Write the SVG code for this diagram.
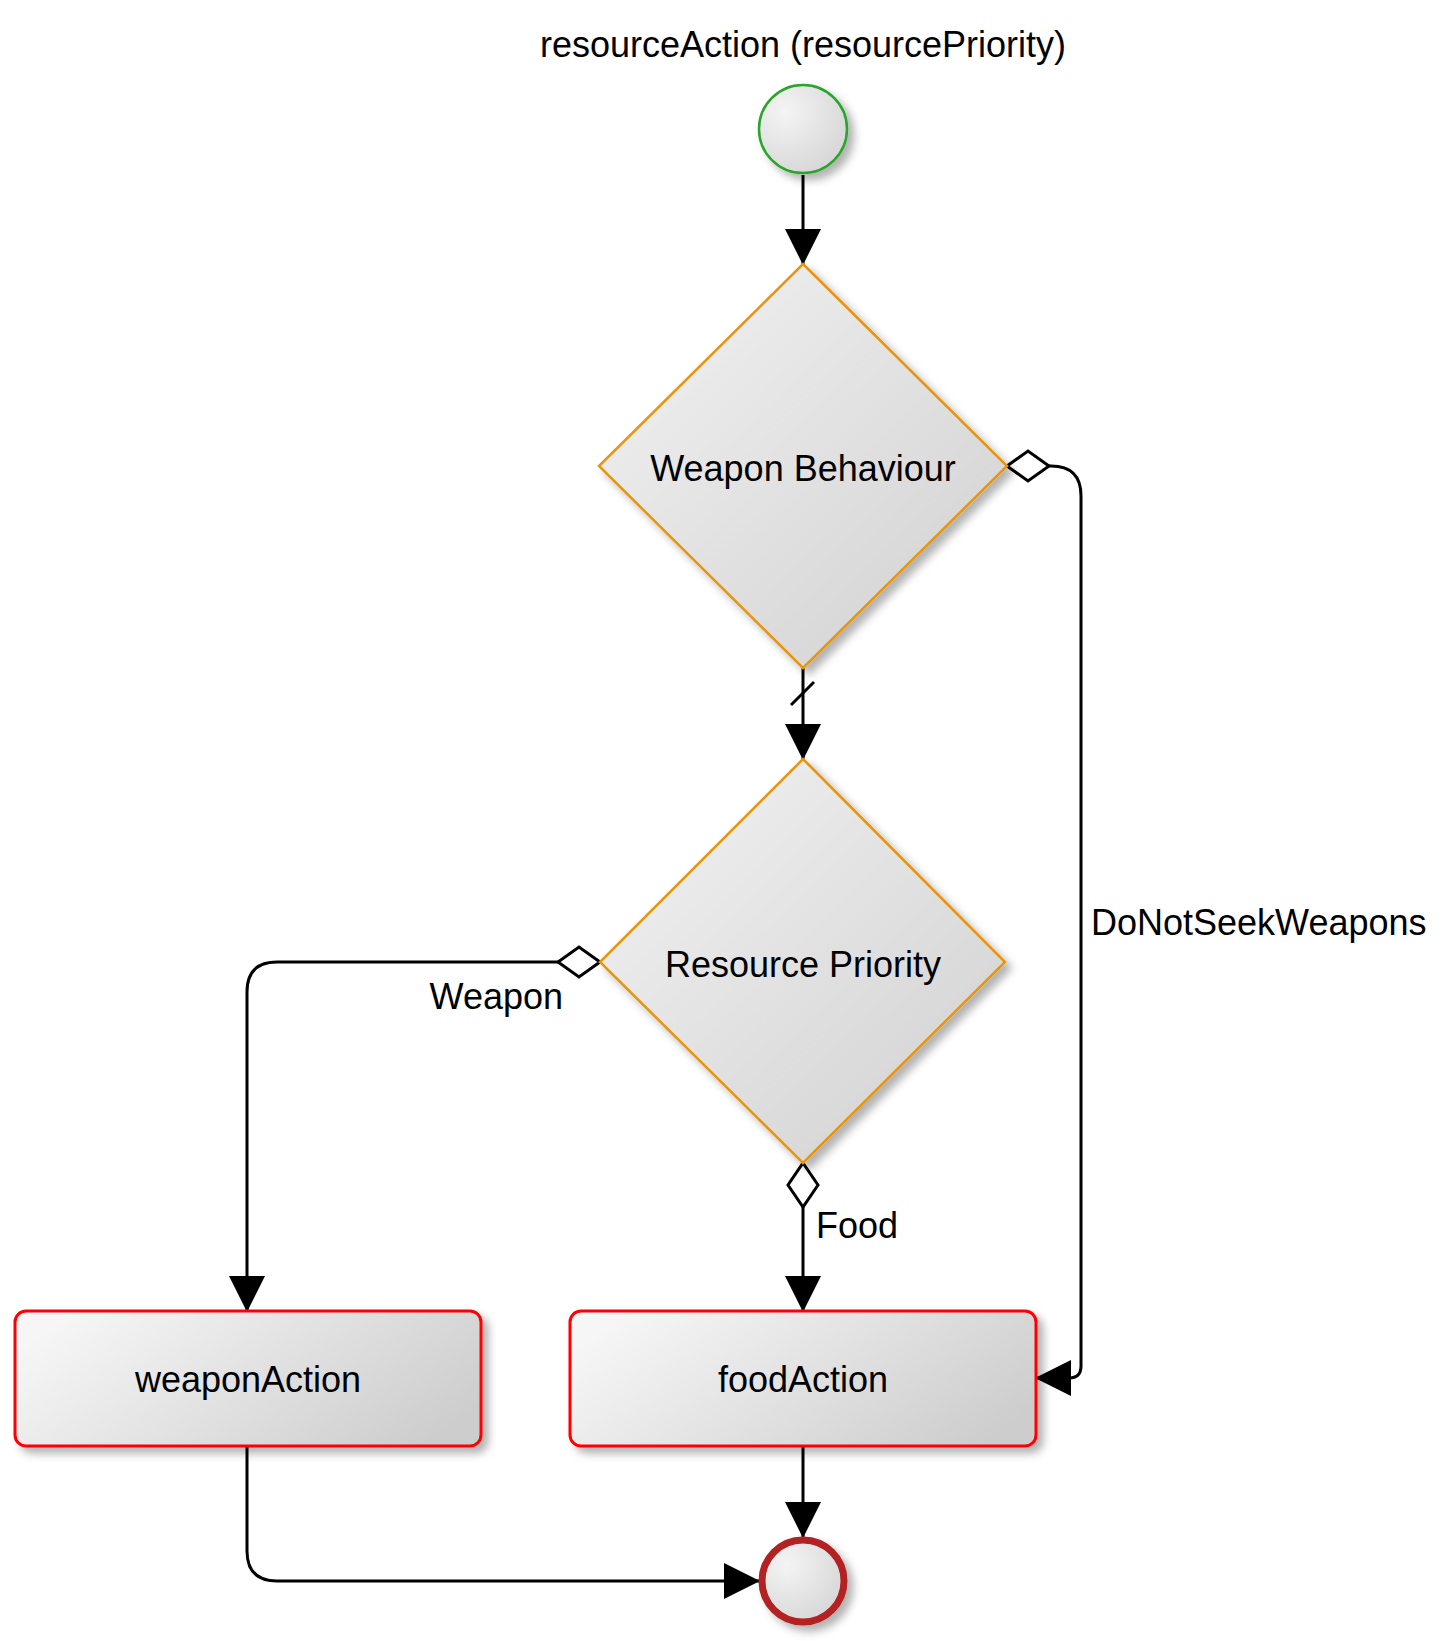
<svg xmlns="http://www.w3.org/2000/svg" width="1452" height="1641" viewBox="0 0 1452 1641">
<defs>
<linearGradient id="gDia" x1="0" y1="0" x2="1" y2="1">
<stop offset="0" stop-color="#f3f3f3"/>
<stop offset="1" stop-color="#d0d0d0"/>
</linearGradient>
<linearGradient id="gBox" x1="0" y1="0.3" x2="1" y2="0.7">
<stop offset="0" stop-color="#f6f6f6"/>
<stop offset="1" stop-color="#cdcdcd"/>
</linearGradient>
<radialGradient id="gCirc" cx="0.3" cy="0.3" r="0.9">
<stop offset="0" stop-color="#f4f4f4"/>
<stop offset="1" stop-color="#d2d2d2"/>
</radialGradient>
<filter id="shadow" x="-20%" y="-20%" width="150%" height="150%">
<feDropShadow dx="6" dy="6" stdDeviation="4" flood-color="#000" flood-opacity="0.3"/>
</filter>
<marker id="arrow" markerUnits="userSpaceOnUse" markerWidth="36" markerHeight="36" viewBox="0 0 36 36" refX="35" refY="18" orient="auto">
<path d="M0,0 L36,18 L0,36 Z" fill="#000"/>
</marker>
</defs>
<style>
.lbl{font-family:"Liberation Sans",Arial,sans-serif;font-size:36px;fill:#000}
.conn{fill:none;stroke:#000;stroke-width:3}
.dec{fill:#fff;stroke:#000;stroke-width:3;stroke-linejoin:miter}
.dia{fill:url(#gDia);stroke:#e8940c;stroke-width:2.5;filter:url(#shadow)}
.box{fill:url(#gBox);stroke:#ff0000;stroke-width:3;filter:url(#shadow)}
</style>

<text class="lbl" x="803" y="57" text-anchor="middle">resourceAction (resourcePriority)</text>

<g id="connectors">
<path class="conn" d="M803,175 L803,264" marker-end="url(#arrow)"/>
<path class="conn" d="M803,668 L803,759" marker-end="url(#arrow)"/>
<path class="conn" d="M791,705 L814,682"/>
<path class="conn" d="M1049,466 L1051,466 Q1081,466 1081,496 L1081,1366 Q1081,1378 1069,1378 L1036,1378" marker-end="url(#arrow)"/>
<path class="dec" d="M1007,466 L1028,451 L1049,466 L1028,481 Z"/>
<path class="conn" d="M558,962 L277,962 Q247,962 247,992 L247,1311" marker-end="url(#arrow)"/>
<path class="dec" d="M600,962 L579,947 L558,962 L579,977 Z"/>
<path class="conn" d="M803,1207 L803,1311" marker-end="url(#arrow)"/>
<path class="dec" d="M803,1163 L818,1185 L803,1207 L788,1185 Z"/>
<path class="conn" d="M803,1446 L803,1537" marker-end="url(#arrow)"/>
<path class="conn" d="M247,1446 L247,1551 Q247,1581 277,1581 L759,1581" marker-end="url(#arrow)"/>
<text class="lbl" x="1091" y="935">DoNotSeekWeapons</text>
<text class="lbl" x="563" y="1009" text-anchor="end">Weapon</text>
<text class="lbl" x="816" y="1238">Food</text>
</g>

<g id="start">
<circle cx="803" cy="129" r="44" fill="url(#gCirc)" stroke="#2aa52a" stroke-width="2.5" filter="url(#shadow)"/>
</g>

<g id="weaponBehaviour">
<path class="dia" d="M803,264 L1007,466 L803,668 L599,466 Z"/>
<text class="lbl" x="803" y="481" text-anchor="middle">Weapon Behaviour</text>
</g>

<g id="resourcePriority">
<path class="dia" d="M803,759 L1005,962 L803,1163 L600,962 Z"/>
<text class="lbl" x="803" y="977" text-anchor="middle">Resource Priority</text>
</g>

<g id="weaponAction">
<rect class="box" x="15" y="1311" width="466" height="135" rx="11"/>
<text class="lbl" x="248" y="1392" text-anchor="middle">weaponAction</text>
</g>

<g id="foodAction">
<rect class="box" x="570" y="1311" width="466" height="135" rx="11"/>
<text class="lbl" x="803" y="1392" text-anchor="middle">foodAction</text>
</g>

<g id="end">
<circle cx="803" cy="1581" r="41" fill="url(#gCirc)" stroke="#b22222" stroke-width="7" filter="url(#shadow)"/>
</g>
</svg>
